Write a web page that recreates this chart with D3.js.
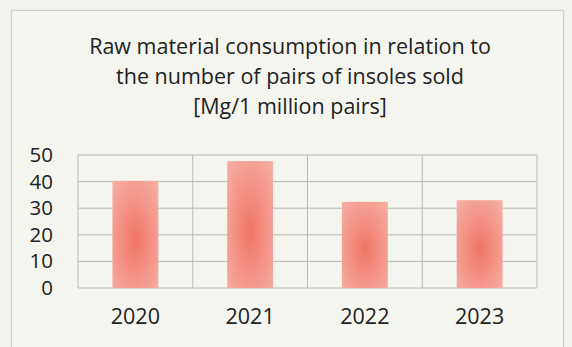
<!DOCTYPE html>
<html><head><meta charset="utf-8">
<script src="https://cdn.jsdelivr.net/npm/d3@7"></script>
<style>
html,body{margin:0;padding:0;background:#f2f2ec;}
svg{display:block;}
</style></head>
<body>
<svg id="c" width="572" height="347"></svg>
<script>
const years = ["2020","2021","2022","2023"];
const values = [40.3, 47.7, 32.4, 33.0];
const yTicks = [0,10,20,30,40,50];
const titleLines = ["Raw material consumption in relation to","the number of pairs of insoles sold","[Mg/1 million pairs]"];

const svg = d3.select("#c");
const W = 572, H = 347;
const font = "'Open Sans', sans-serif";

svg.append("rect").attr("width",W).attr("height",H).attr("fill","#f2f2ec");
svg.append("rect").attr("x",11.5).attr("y",10.5).attr("width",552).attr("height",350)
  .attr("fill","#f5f5f0").attr("stroke","#cfcfc8").attr("stroke-width",1.2);

const defs = svg.append("defs");
const g1 = defs.append("radialGradient").attr("id","barGrad").attr("cx","50%").attr("cy","55%").attr("r","75%");
g1.append("stop").attr("offset","0%").attr("stop-color","#f07565");
g1.append("stop").attr("offset","100%").attr("stop-color","#f6b3a6");

svg.append("g").selectAll("text").data(titleLines).join("text")
  .attr("x",290).attr("y",(d,i)=>54+i*30)
  .attr("text-anchor","middle").attr("font-family",font).attr("font-size",21.5)
  .attr("fill","#222").text(d=>d);

const m = {l:78, r:537, t:155, b:288};
const x = d3.scaleBand().domain(years).range([m.l,m.r]).paddingInner(0).paddingOuter(0);
const y = d3.scaleLinear().domain([0,50]).range([m.b,m.t]);

// grid
const grid = svg.append("g").attr("stroke","#b9b9b2").attr("stroke-width",1);
grid.selectAll("line.h").data(yTicks).join("line").attr("class","h")
  .attr("x1",m.l).attr("x2",m.r).attr("y1",d=>y(d)).attr("y2",d=>y(d));
grid.selectAll("line.v").data(years.concat(["end"])).join("line").attr("class","v")
  .attr("x1",(d,i)=>i<years.length?x(d):m.r).attr("x2",(d,i)=>i<years.length?x(d):m.r)
  .attr("y1",m.t).attr("y2",m.b);

// bars
const bw = x.bandwidth()*0.4;
svg.append("g").selectAll("rect").data(values).join("rect")
  .attr("x",(d,i)=>x(years[i])+x.bandwidth()/2-bw/2)
  .attr("y",d=>y(d)).attr("width",bw).attr("height",d=>y(0)-y(d))
  .attr("fill","url(#barGrad)");

// y axis
const ya = svg.append("g").attr("transform",`translate(${m.l-25},0)`)
  .call(d3.axisLeft(y).tickValues(yTicks).tickSize(0).tickPadding(0));
ya.select(".domain").remove();
ya.selectAll("text").attr("font-family",font).attr("font-size",20.5).attr("fill","#222");

// x axis
const xa = svg.append("g").attr("transform",`translate(0,${m.b})`)
  .call(d3.axisBottom(x).tickSize(0).tickPadding(21));
xa.select(".domain").remove();
xa.selectAll("text").attr("font-family",font).attr("font-size",21.5).attr("fill","#222");
</script>
</body></html>
